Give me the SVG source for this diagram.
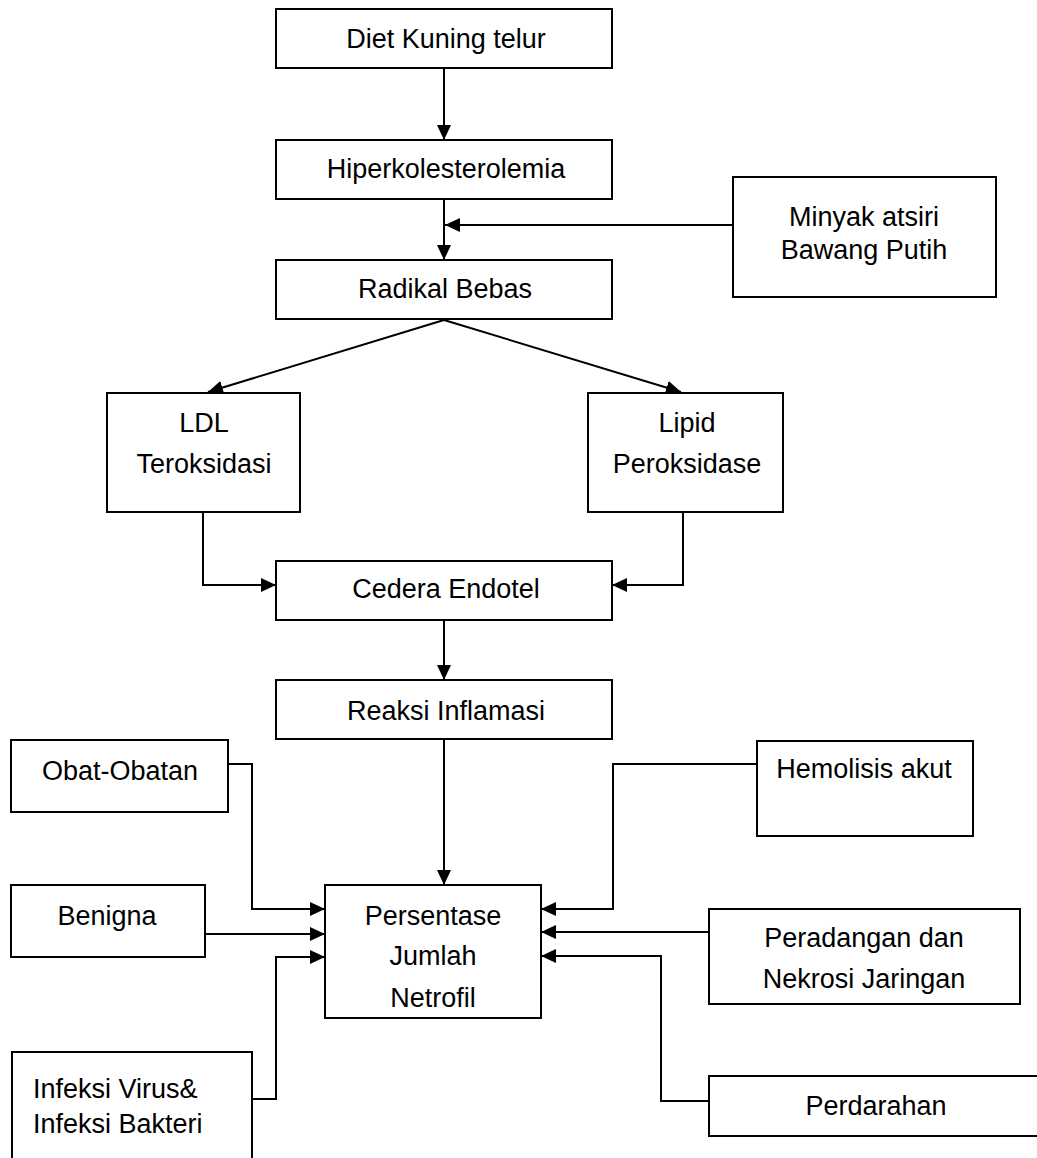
<svg xmlns="http://www.w3.org/2000/svg" width="1037" height="1158" viewBox="0 0 1037 1158">
<style>
.box{fill:#fff;stroke:#000;stroke-width:2}
.t{font-family:"Liberation Sans",Arial,sans-serif;font-size:27px;fill:#000;text-anchor:middle}
.tl{font-family:"Liberation Sans",Arial,sans-serif;font-size:27px;fill:#000;text-anchor:start}
.c{fill:none;stroke:#000;stroke-width:2}
</style>
<defs>
<marker id="ah" markerUnits="userSpaceOnUse" markerWidth="16" markerHeight="15" refX="15" refY="7" orient="auto">
<path d="M0,0 L15,7 L0,14 z" fill="#000"/>
</marker>
</defs>
<rect width="1037" height="1158" fill="#fff"/>
<g id="connectors">
<line class="c" x1="444" y1="68" x2="444" y2="140" marker-end="url(#ah)"/>
<line class="c" x1="444" y1="199" x2="444" y2="260" marker-end="url(#ah)"/>
<line class="c" x1="733" y1="225" x2="445" y2="225" marker-end="url(#ah)"/>
<line class="c" x1="444" y1="320" x2="208" y2="392" marker-end="url(#ah)"/>
<line class="c" x1="444" y1="320" x2="681" y2="392" marker-end="url(#ah)"/>
<path class="c" d="M203,512 V585 H276" marker-end="url(#ah)"/>
<path class="c" d="M683,512 V585 H612" marker-end="url(#ah)"/>
<line class="c" x1="444" y1="620" x2="444" y2="680" marker-end="url(#ah)"/>
<line class="c" x1="444" y1="739" x2="444" y2="885" marker-end="url(#ah)"/>
<path class="c" d="M228,764 H252 V909 H325" marker-end="url(#ah)"/>
<path class="c" d="M205,934 H325" marker-end="url(#ah)"/>
<path class="c" d="M252,1099 H276 V957 H325" marker-end="url(#ah)"/>
<path class="c" d="M757,764 H613 V909 H541" marker-end="url(#ah)"/>
<path class="c" d="M709,932 H541" marker-end="url(#ah)"/>
<path class="c" d="M709,1101 H661 V956 H541" marker-end="url(#ah)"/>
</g>
<g id="diet"><rect class="box" x="276" y="9" width="336" height="59"/><text class="t" x="446" y="48">Diet Kuning telur</text></g>
<g id="hiper"><rect class="box" x="276" y="140" width="336" height="59"/><text class="t" x="446" y="178">Hiperkolesterolemia</text></g>
<g id="minyak"><rect class="box" x="733" y="177" width="263" height="120"/><text class="t" x="864" y="226">Minyak atsiri</text><text class="t" x="864" y="259">Bawang Putih</text></g>
<g id="radikal"><rect class="box" x="276" y="260" width="336" height="59"/><text class="t" x="445" y="298">Radikal Bebas</text></g>
<g id="ldl"><rect class="box" x="107" y="393" width="193" height="119"/><text class="t" x="204" y="432">LDL</text><text class="t" x="204" y="473">Teroksidasi</text></g>
<g id="lipid"><rect class="box" x="588" y="393" width="195" height="119"/><text class="t" x="687" y="432">Lipid</text><text class="t" x="687" y="473">Peroksidase</text></g>
<g id="cedera"><rect class="box" x="276" y="561" width="336" height="59"/><text class="t" x="446" y="598">Cedera Endotel</text></g>
<g id="reaksi"><rect class="box" x="276" y="680" width="336" height="59"/><text class="t" x="446" y="720">Reaksi Inflamasi</text></g>
<g id="obat"><rect class="box" x="11" y="740" width="217" height="72"/><text class="t" x="120" y="780">Obat-Obatan</text></g>
<g id="benigna"><rect class="box" x="11" y="885" width="194" height="72"/><text class="t" x="107" y="925">Benigna</text></g>
<g id="infeksi"><rect class="box" x="12" y="1052" width="240" height="130"/><text class="tl" x="33" y="1098">Infeksi Virus&amp;</text><text class="tl" x="33" y="1133">Infeksi Bakteri</text></g>
<g id="persentase"><rect class="box" x="325" y="885" width="216" height="133"/><text class="t" x="433" y="925">Persentase</text><text class="t" x="433" y="965">Jumlah</text><text class="t" x="433" y="1007">Netrofil</text></g>
<g id="hemolisis"><rect class="box" x="757" y="741" width="216" height="95"/><text class="t" x="864" y="778">Hemolisis akut</text></g>
<g id="peradangan"><rect class="box" x="709" y="909" width="311" height="95"/><text class="t" x="864" y="947">Peradangan dan</text><text class="t" x="864" y="988">Nekrosi Jaringan</text></g>
<g id="perdarahan"><rect class="box" x="709" y="1076" width="345" height="60"/><text class="t" x="876" y="1115">Perdarahan</text></g>
</svg>
